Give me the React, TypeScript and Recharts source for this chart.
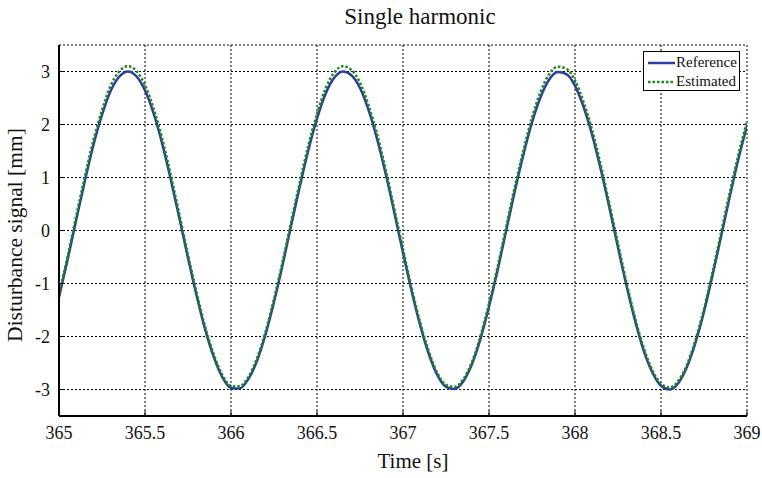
import React from "react";
import { LineChart, Line, XAxis, YAxis, CartesianGrid } from "recharts";

// time samples [s]
const times = [
  365.0, 365.05, 365.1, 365.15, 365.2, 365.25, 365.3, 365.35, 365.4, 365.45,
  365.5, 365.55, 365.6, 365.65, 365.7, 365.75, 365.8, 365.85, 365.9, 365.95,
  366.0, 366.05, 366.1, 366.15, 366.2, 366.25, 366.3, 366.35, 366.4, 366.45,
  366.5, 366.55, 366.6, 366.65, 366.7, 366.75, 366.8, 366.85, 366.9, 366.95,
  367.0, 367.05, 367.1, 367.15, 367.2, 367.25, 367.3, 367.35, 367.4, 367.45,
  367.5, 367.55, 367.6, 367.65, 367.7, 367.75, 367.8, 367.85, 367.9, 367.95,
  368.0, 368.05, 368.1, 368.15, 368.2, 368.25, 368.3, 368.35, 368.4, 368.45,
  368.5, 368.55, 368.6, 368.65, 368.7, 368.75, 368.8, 368.85, 368.9, 368.95,
  369.0,
];

// disturbance [mm]
const reference = [
  -1.26, -0.55, 0.2, 0.93, 1.61, 2.18, 2.63, 2.9, 3.0, 2.91,
  2.64, 2.21, 1.64, 0.96, 0.23, -0.52, -1.23, -1.87, -2.39, -2.77,
  -2.97, -2.98, -2.81, -2.47, -1.97, -1.35, -0.65, 0.1, 0.83, 1.52,
  2.11, 2.58, 2.88, 3.0, 2.93, 2.69, 2.27, 1.72, 1.06, 0.33,
  -0.42, -1.14, -1.79, -2.33, -2.73, -2.95, -2.99, -2.85, -2.53, -2.05,
  -1.44, -0.75, 0.0, 0.74, 1.43, 2.04, 2.52, 2.85, 2.99, 2.95,
  2.73, 2.33, 1.8, 1.15, 0.43, -0.32, -1.05, -1.71, -2.27, -2.68,
  -2.93, -3.0, -2.88, -2.58, -2.12, -1.53, -0.84, -0.1, 0.64, 1.35,
  1.97,
];

const estimated = [
  -1.2, -0.49, 0.27, 1.01, 1.7, 2.27, 2.73, 3.0, 3.1, 3.01,
  2.74, 2.3, 1.73, 1.04, 0.3, -0.46, -1.17, -1.82, -2.34, -2.73,
  -2.93, -2.94, -2.77, -2.42, -1.92, -1.29, -0.59, 0.17, 0.91, 1.61,
  2.2, 2.68, 2.98, 3.1, 3.03, 2.79, 2.36, 1.81, 1.14, 0.4,
  -0.35, -1.08, -1.74, -2.28, -2.69, -2.91, -2.95, -2.81, -2.49, -2.0,
  -1.38, -0.69, 0.07, 0.82, 1.51, 2.13, 2.62, 2.95, 3.09, 3.05,
  2.83, 2.42, 1.89, 1.23, 0.5, -0.25, -0.99, -1.66, -2.22, -2.64,
  -2.89, -2.96, -2.84, -2.54, -2.07, -1.48, -0.78, -0.03, 0.72, 1.43,
  2.06,
];

const xTicks = [365, 365.5, 366, 366.5, 367, 367.5, 368, 368.5, 369];
const yTicks = [-3, -2, -1, 0, 1, 2, 3];

const data = times.map((t, i) => ({ t, ref: reference[i], est: estimated[i] }));

const FONT = "Liberation Serif";
const BLUE = "#2e3c9e";
const GREEN = "#178a17";

export default function App() {
  return (
    <div
      style={{
        position: "absolute",
        left: 0,
        top: 0,
        width: 762,
        height: 478,
        background: "#fff",
        fontFamily: FONT,
      }}
    >
      <LineChart
        width={762}
        height={478}
        data={data}
        margin={{ top: 45, right: 15, bottom: 22, left: 9 }}
        style={{ fontFamily: FONT }}
      >
        <CartesianGrid stroke="#000" strokeDasharray="2 2" strokeWidth={1} />
        <XAxis
          dataKey="t"
          type="number"
          domain={[365, 369]}
          ticks={xTicks}
          allowDataOverflow
          height={40}
          axisLine={{ stroke: "#000", strokeWidth: 2 }}
          tickLine={{ stroke: "#000" }}
          tickSize={-5}
          tickMargin={15}
          tick={{ fill: "#111", fontSize: 18, fontFamily: FONT, style: { fontFamily: FONT } }}
        />
        <XAxis
          xAxisId="top"
          orientation="top"
          dataKey="t"
          type="number"
          domain={[365, 369]}
          ticks={xTicks}
          height={0}
          axisLine={{ stroke: "#000", strokeWidth: 2 }}
          tickLine={{ stroke: "#000" }}
          tickSize={-5}
          tickFormatter={() => ""}
        />
        <YAxis
          type="number"
          domain={[-3.5, 3.5]}
          ticks={yTicks}
          allowDataOverflow
          width={50}
          axisLine={{ stroke: "#000", strokeWidth: 2 }}
          tickLine={{ stroke: "#000" }}
          tickSize={-5}
          tickMargin={14}
          tick={{ fill: "#111", fontSize: 18, fontFamily: FONT, style: { fontFamily: FONT } }}
        />
        <YAxis
          yAxisId="right"
          orientation="right"
          type="number"
          domain={[-3.5, 3.5]}
          ticks={yTicks}
          width={0}
          axisLine={{ stroke: "#000", strokeWidth: 2 }}
          tickLine={{ stroke: "#000" }}
          tickSize={-5}
          tickFormatter={() => ""}
        />
        <Line
          dataKey="ref"
          type="monotone"
          stroke={BLUE}
          strokeWidth={2.5}
          dot={false}
          isAnimationActive={false}
        />
        <Line
          dataKey="est"
          type="monotone"
          stroke={GREEN}
          strokeWidth={2.5}
          strokeDasharray="2.5 2"
          dot={false}
          isAnimationActive={false}
        />
      </LineChart>

      <div
        style={{
          position: "absolute",
          left: 0,
          width: 840,
          top: 4,
          textAlign: "center",
          fontSize: 23,
          color: "#111",
        }}
      >
        Single harmonic
      </div>
      <div
        style={{
          position: "absolute",
          left: 0,
          width: 826,
          top: 449,
          textAlign: "center",
          fontSize: 21,
          color: "#111",
        }}
      >
        Time [s]
      </div>
      <div
        style={{
          position: "absolute",
          left: 15,
          top: 235,
          transform: "translate(-50%, -50%) rotate(-90deg)",
          whiteSpace: "nowrap",
          fontSize: 21.5,
          color: "#111",
        }}
      >
        Disturbance signal [mm]
      </div>

      <div
        style={{
          position: "absolute",
          left: 643,
          top: 51,
          width: 97,
          height: 40,
          border: "1.5px solid #000",
          background: "#fff",
          fontSize: 15,
          color: "#111",
          lineHeight: "19px",
          paddingTop: 1,
          boxSizing: "border-box",
        }}
      >
        {[
          { name: "Reference", color: BLUE, dash: undefined },
          { name: "Estimated", color: GREEN, dash: "2.5 2" },
        ].map((s) => (
          <div key={s.name} style={{ display: "flex", alignItems: "center" }}>
            <svg width={32} height={19}>
              <line
                x1={4}
                x2={31}
                y1={10}
                y2={10}
                stroke={s.color}
                strokeWidth={2.5}
                strokeDasharray={s.dash}
              />
            </svg>
            <span>{s.name}</span>
          </div>
        ))}
      </div>
    </div>
  );
}
